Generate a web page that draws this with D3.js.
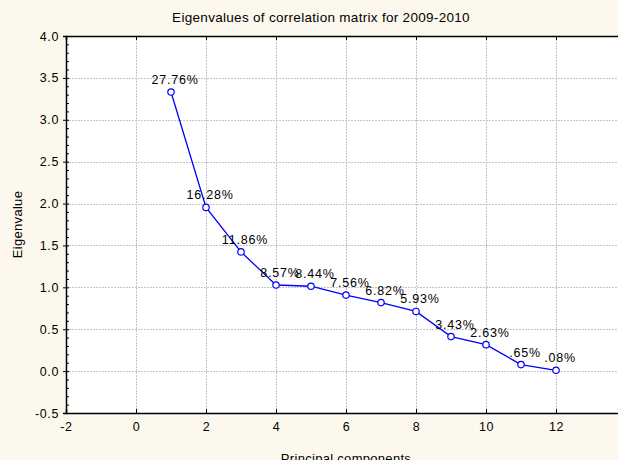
<!DOCTYPE html>
<html>
<head>
<meta charset="utf-8">
<script src="https://cdn.jsdelivr.net/npm/d3@7"></script>
<style>
html,body{margin:0;padding:0;background:#fdf8ed;}
svg{display:block;}
text{font-family:Arial,"Liberation Sans",sans-serif;fill:#000;}
</style>
</head>
<body>
<svg id="chart" width="618" height="460"></svg>
<script>
const components = [1,2,3,4,5,6,7,8,9,10,11,12];
const eigenvalues = [3.331,1.954,1.423,1.028,1.013,0.907,0.818,0.712,0.412,0.316,0.078,0.010];
const pctLabels = ["27.76%","16.28%","11.86%","8.57%","8.44%","7.56%","6.82%","5.93%","3.43%","2.63%",".65%",".08%"];
const xTicks = [-2,0,2,4,6,8,10,12,14];
const yTicks = [-0.5,0,0.5,1,1.5,2,2.5,3,3.5,4];
const titleText = "Eigenvalues of correlation matrix for 2009-2010";
const xTitle = "Principal components";
const yTitle = "Eigenvalue";

const svg = d3.select("#chart");
const L = 66, R = 626, T = 36, B = 413;
const x = d3.scaleLinear().domain([-2,14]).range([L,R]);
const y = d3.scaleLinear().domain([-0.5,4]).range([B,T]);
const loc = d3.formatLocale({decimal:".",thousands:",",grouping:[3],currency:["",""],minus:"-"});

svg.append("rect").attr("width",618).attr("height",460).attr("fill","#fdf8ed");
svg.append("rect").attr("x",L).attr("y",T).attr("width",R-L).attr("height",B-T).attr("fill","#fff");

// grid
const grid = svg.append("g").attr("stroke","#c4c4c4").attr("stroke-width",1).attr("stroke-dasharray","2,1");
grid.selectAll("line.v").data(xTicks.filter(d=>d>-2&&d<14)).join("line")
  .attr("x1",d=>Math.round(x(d))+0.5).attr("x2",d=>Math.round(x(d))+0.5).attr("y1",T).attr("y2",B);
grid.selectAll("line.h").data(yTicks.filter(d=>d>-0.5&&d<4)).join("line")
  .attr("y1",d=>Math.round(y(d))+0.5).attr("y2",d=>Math.round(y(d))+0.5).attr("x1",L).attr("x2",R);

// axes
const xAxisB = d3.axisBottom(x).tickValues(xTicks).tickSize(-4).tickPadding(9).tickFormat(loc.format("d"));
const gxb = svg.append("g").attr("transform",`translate(0,${B})`).call(xAxisB);
const xAxisT = d3.axisTop(x).tickValues(xTicks).tickSize(-4).tickFormat("");
const gxt = svg.append("g").attr("transform",`translate(0,${T})`).call(xAxisT);
const yAxis = d3.axisLeft(y).tickValues(yTicks).tickSize(3).tickPadding(4).tickFormat(loc.format(".1f"));
const gy = svg.append("g").attr("transform",`translate(${L},0)`).call(yAxis);
const yMinor = d3.axisLeft(y).tickValues(d3.range(-0.5,4.001,0.1)).tickSize(-3).tickFormat("");
const gym = svg.append("g").attr("transform",`translate(${L},0)`).call(yMinor);
gym.select(".domain").remove();
[gxb,gxt,gy,gym].forEach(g=>{
  g.selectAll(".domain").attr("stroke","#000").attr("stroke-width",1.5);
  g.selectAll(".tick line").attr("stroke","#000");
  g.selectAll("text").attr("font-size",12.5).attr("letter-spacing","0.6px").attr("font-family","Arial, 'Liberation Sans', sans-serif").attr("fill","#000");
});
// right border
svg.append("line").attr("x1",R).attr("x2",R).attr("y1",T).attr("y2",B).attr("stroke","#000").attr("stroke-width",1.5);

// line
const line = d3.line().x((d,i)=>x(components[i])).y(d=>y(d));
svg.append("path").datum(eigenvalues).attr("d",line).attr("fill","none").attr("stroke","#0000ff").attr("stroke-width",1.3);
svg.selectAll("circle.pt").data(eigenvalues).join("circle")
  .attr("cx",(d,i)=>x(components[i])).attr("cy",d=>y(d)).attr("r",3.2)
  .attr("fill","#fff").attr("stroke","#0000ff").attr("stroke-width",1.2);
svg.selectAll("text.lbl").data(eigenvalues).join("text")
  .attr("x",(d,i)=>x(components[i])+4).attr("y",d=>y(d)-8)
  .attr("text-anchor","middle").attr("font-size",12.5).attr("letter-spacing","0.8px")
  .text((d,i)=>pctLabels[i]);

// titles
svg.append("text").attr("x",321).attr("y",22).attr("text-anchor","middle").attr("font-size",13.5).attr("letter-spacing","0.3px").text(titleText);
svg.append("text").attr("x",346).attr("y",463).attr("text-anchor","middle").attr("font-size",13).attr("letter-spacing","0.3px").text(xTitle);
svg.append("text").attr("transform",`translate(22,${(T+B)/2}) rotate(-90)`).attr("text-anchor","middle").attr("font-size",13).attr("letter-spacing","0.3px").text(yTitle);
</script>
</body>
</html>
